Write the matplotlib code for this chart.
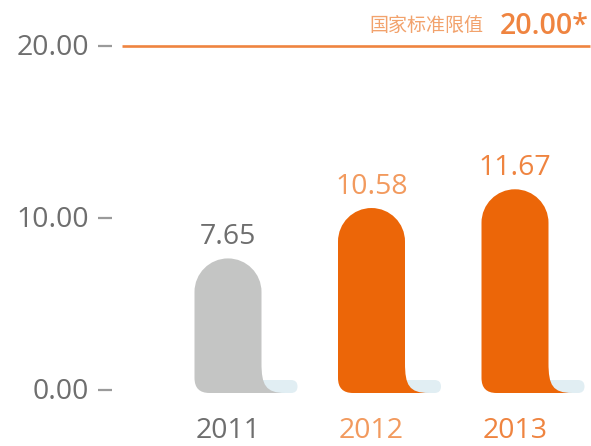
import numpy as np
import matplotlib.pyplot as plt
from matplotlib.path import Path
from matplotlib.patches import PathPatch

plt.rcParams['font.family'] = ['Open Sans', 'Noto Sans CJK SC', 'DejaVu Sans']

years = ['2011', '2012', '2013']
values = [7.65, 10.58, 11.67]
limit_value = 20.0
limit_label = '国家标准限值'
y_ticks = [0.0, 10.0, 20.0]

bar_colors = ['#c4c5c4', '#ec6608', '#ec6608']
value_colors = ['#6e6e6e', '#f29a5e', '#ef8440']
year_colors = ['#6e6e6e', '#f29a5e', '#ef8440']
gray_text = '#6e6e6e'
orange_line = '#ef8440'

W, H = 591, 446
# pixel layout of the reference
X0_PX, DX_PX = 228.0, 143.5          # centre of first bar, spacing
Y0_PX, Y20_PX = 390.0, 46.0          # pixel row of 0 and 20
SY = (Y0_PX - Y20_PX) / 20.0         # px per unit


def dx(px):
    return px / DX_PX


def dy(px):
    return px / SY


def xpix(px):
    return (px - X0_PX) / DX_PX


fig = plt.figure(figsize=(W / 100, H / 100), dpi=100)
ax = fig.add_axes([0, 0, 1, 1])
ax.set_xlim(xpix(0), xpix(W))
ax.set_ylim(-(H - Y0_PX) / SY, Y20_PX / SY + 20.0)
ax.axis('off')

half = dx(33.5)
rx, ry = dx(33.5), dy(33.5)
k = 0.5523
y_bot = -dy(3)

for i, (v, c) in enumerate(zip(values, bar_colors)):
    x0, x1 = i - half, i + half
    # light shadow pill at the foot
    pr = dy(6.5)
    prx = dx(6.5)
    pl, prt = x1 - dx(4), x1 + dx(36)
    pb, pt = y_bot, y_bot + dy(13)
    pill = Path([(pl, pb), (prt - prx, pb), (prt, pb), (prt, pb + pr), (prt, pt), (prt - prx, pt), (pl, pt), (pl, pb)],
                [Path.MOVETO, Path.LINETO, Path.CURVE3, Path.CURVE3, Path.CURVE3, Path.CURVE3, Path.LINETO, Path.CLOSEPOLY])
    ax.add_patch(PathPatch(pill, facecolor='#e1eef3', edgecolor='none', zorder=1))

    # body: rounded top, rounded bottom-left, flared foot on the right
    top = v
    br = dx(15)
    bry = dy(15)
    verts = [
        (x0 + br, y_bot),
        (x1 + dx(24), y_bot),
        (x1 + dx(4), y_bot), (x1, y_bot + dy(8)), (x1, y_bot + dy(30)),
        (x1, top - ry),
        (x1, top - ry + k * ry), (i + k * rx, top), (i, top),
        (i - k * rx, top), (x0, top - ry + k * ry), (x0, top - ry),
        (x0, y_bot + bry),
        (x0, y_bot), (x0 + br, y_bot),
        (x0 + br, y_bot),
    ]
    codes = [Path.MOVETO, Path.LINETO,
             Path.CURVE4, Path.CURVE4, Path.CURVE4,
             Path.LINETO,
             Path.CURVE4, Path.CURVE4, Path.CURVE4,
             Path.CURVE4, Path.CURVE4, Path.CURVE4,
             Path.LINETO,
             Path.CURVE3, Path.CURVE3,
             Path.CLOSEPOLY]
    ax.add_patch(PathPatch(Path(verts, codes), facecolor=c, edgecolor='none', zorder=2))

    ax.text(i, top + dy(7), f'{v:.2f}', ha='center', va='bottom',
            fontsize=20.5, color=value_colors[i])
    ax.text(i, -dy(41.5), years[i], ha='center', va='center',
            fontsize=20.5, color=year_colors[i])

# y ticks
for t in y_ticks:
    ax.text(xpix(89), t - dy(2), f'{t:.2f}', ha='right', va='center', fontsize=20.5, color=gray_text)
    ax.plot([xpix(98), xpix(112)], [t, t], color='#9a9a9a', lw=1.6, solid_capstyle='butt')

# national limit line
ax.plot([xpix(122), xpix(590)], [limit_value, limit_value], color=orange_line, lw=1.9,
        solid_capstyle='butt')
ax.text(xpix(483), limit_value + dy(20), limit_label, ha='right', va='center',
        fontsize=13.7, color='#f2a26c')
ax.text(xpix(589), limit_value + dy(19), f'{limit_value:.2f}*', ha='right', va='center',
        fontsize=20.5, color='#ef8440', fontweight='semibold')

fig.savefig('out.png', dpi=100)
